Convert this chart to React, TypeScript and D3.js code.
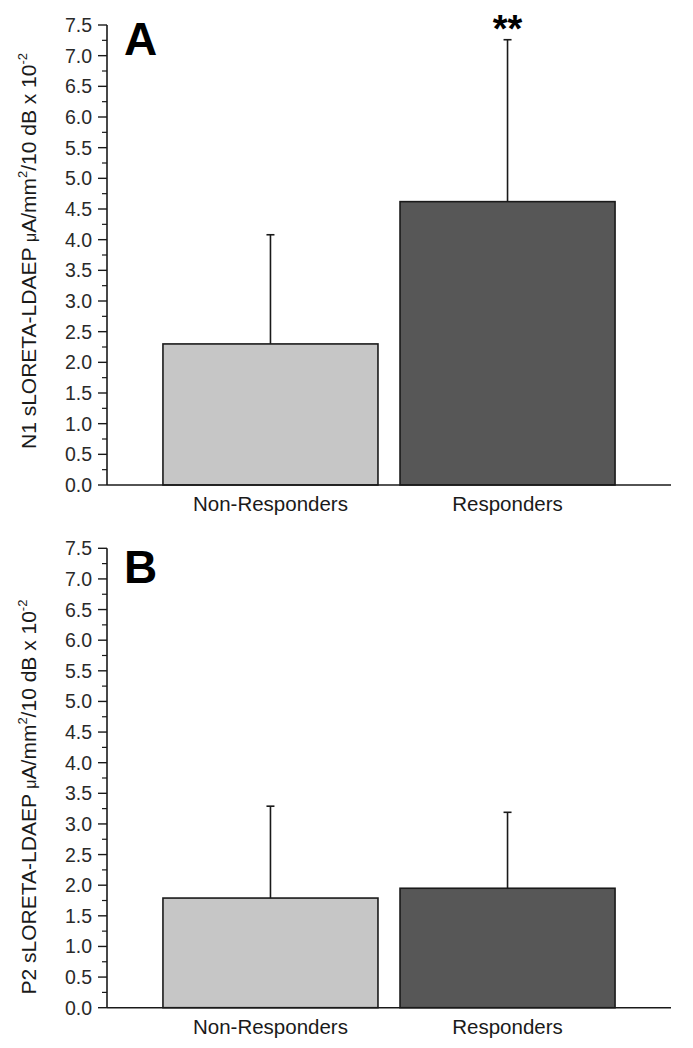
import React from "react";
import * as d3 from "d3";

const categories = ["Non-Responders", "Responders"];
const n1Means = [2.3, 4.62];
const n1Errors = [1.78, 2.64];
const p2Means = [1.79, 1.95];
const p2Errors = [1.5, 1.24];
const yTickValues = [0, 0.5, 1.0, 1.5, 2.0, 2.5, 3.0, 3.5, 4.0, 4.5, 5.0, 5.5, 6.0, 6.5, 7.0, 7.5];
const barFills = ["#c6c6c6", "#575757"];

const FONT = "'Liberation Sans', Arial, Helvetica, sans-serif";
const INK = "#1a1a1a";

type PanelProps = {
  top: number;
  bottom: number;
  means: number[];
  errors: number[];
  letter: string;
  letterY: number;
  prefix: string;
  titleY: number;
  stars?: string;
};

function Panel({ top, bottom, means, errors, letter, letterY, prefix, titleY, stars }: PanelProps) {
  const axisX = 107;
  const y = d3.scaleLinear().domain([0, 7.5]).range([bottom, top]);
  const x = d3
    .scaleBand<string>()
    .domain(categories)
    .range([axisX, 671])
    .paddingInner(0.093)
    .paddingOuter(0.236);
  const minor = d3.range(0.25, 7.5, 0.5);
  return (
    <g>
      {categories.map((c, i) => (
        <rect
          key={c}
          x={x(c)}
          y={y(means[i])}
          width={x.bandwidth()}
          height={y(0) - y(means[i])}
          fill={barFills[i]}
          stroke={INK}
          strokeWidth={1.6}
        />
      ))}
      {categories.map((c, i) => {
        const cx = (x(c) as number) + x.bandwidth() / 2;
        return (
          <g key={"e" + c} stroke={INK} strokeWidth={1.6}>
            <line x1={cx} x2={cx} y1={y(means[i])} y2={y(means[i] + errors[i])} />
            <line x1={cx - 4} x2={cx + 4} y1={y(means[i] + errors[i])} y2={y(means[i] + errors[i])} />
          </g>
        );
      })}
      <line x1={axisX} x2={axisX} y1={y(7.5)} y2={y(0)} stroke={INK} strokeWidth={1.6} />
      <line x1={axisX} x2={671} y1={y(0)} y2={y(0)} stroke={INK} strokeWidth={1.6} />
      {yTickValues.map((t) => (
        <g key={"t" + t}>
          <line x1={axisX - 9} x2={axisX} y1={y(t)} y2={y(t)} stroke={INK} strokeWidth={1.4} />
          <text
            x={92}
            y={y(t)}
            dy="0.36em"
            textAnchor="end"
            fontSize={19.5}
            fontFamily={FONT}
            fill="#2a2a2a"
          >
            {d3.format(".1f")(t)}
          </text>
        </g>
      ))}
      {minor.map((t) => (
        <line key={"m" + t} x1={axisX - 5} x2={axisX} y1={y(t)} y2={y(t)} stroke={INK} strokeWidth={1.2} />
      ))}
      {categories.map((c) => (
        <text
          key={"l" + c}
          x={(x(c) as number) + x.bandwidth() / 2}
          y={y(0) + 26}
          textAnchor="middle"
          fontSize={20.5}
          fontFamily={FONT}
          fill="#1a1a1a"
        >
          {c}
        </text>
      ))}
      <text x={124} y={letterY} fontSize={46} fontWeight="bold" fontFamily={FONT} fill="#000">
        {letter}
      </text>
      <text
        transform={`translate(28,${titleY}) rotate(-90)`}
        textAnchor="middle"
        dy="0.36em"
        fontSize={21}
        fontFamily={FONT}
        fill="#1a1a1a"
      >
        {prefix + " sLORETA-LDAEP "}
        <tspan fontSize={16}>μ</tspan>
        {"A/mm"}
        <tspan fontSize={13} dy={-9}>2</tspan>
        <tspan dy={9}>{"/10 dB x 10"}</tspan>
        <tspan fontSize={13} dy={-9}>-2</tspan>
      </text>
      {stars && (
        <text
          x={(x(categories[1]) as number) + x.bandwidth() / 2}
          y={y(means[1] + errors[1]) + 2}
          textAnchor="middle"
          fontSize={38}
          fontWeight="bold"
          fontFamily={FONT}
          fill="#000"
        >
          {stars}
        </text>
      )}
    </g>
  );
}

export default function App() {
  return (
    <svg
      width={693}
      height={1048}
      style={{ position: "absolute", left: 0, top: 0, display: "block", background: "#fff" }}
    >
      <rect width={693} height={1048} fill="#fff" />
      <Panel
        top={25}
        bottom={485}
        means={n1Means}
        errors={n1Errors}
        letter="A"
        letterY={55}
        prefix="N1"
        titleY={251}
        stars="**"
      />
      <Panel
        top={548.3}
        bottom={1007.7}
        means={p2Means}
        errors={p2Errors}
        letter="B"
        letterY={583}
        prefix="P2"
        titleY={797}
      />
    </svg>
  );
}
